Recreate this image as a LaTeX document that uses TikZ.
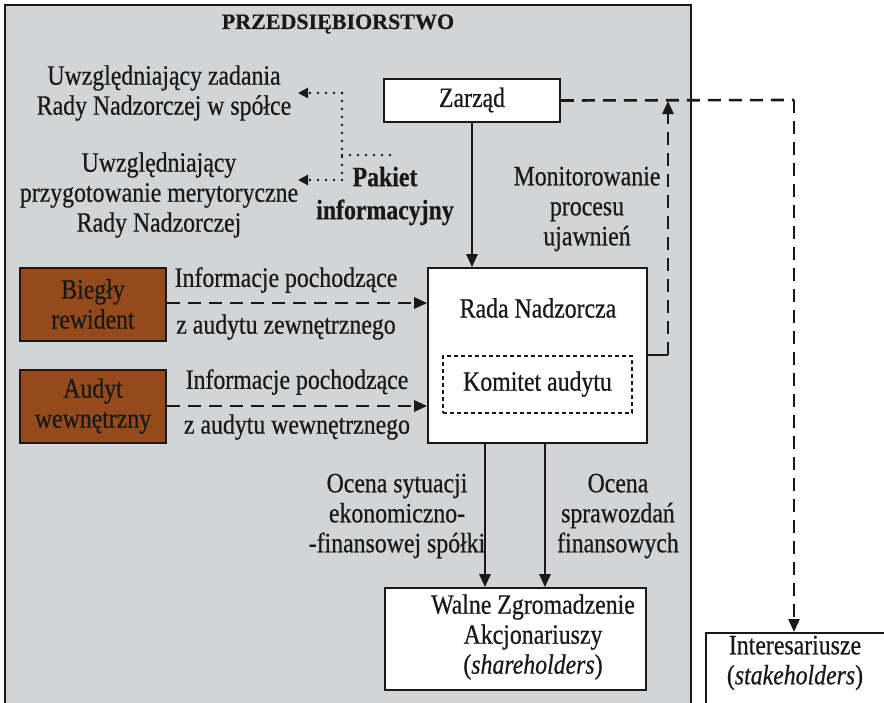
\documentclass[tikz,border=0pt]{standalone}
\usepackage{fontspec}
\setmainfont[FakeStretch=0.85,FakeBold=0.6]{Liberation Serif}
\newfontfamily\titlefont[FakeBold=0.6]{Liberation Serif}
\usetikzlibrary{arrows.meta}
\definecolor{bggrey}{RGB}{211,212,214}
\definecolor{brownbox}{RGB}{148,74,28}
\definecolor{ink}{RGB}{25,25,25}
\tikzset{
  txt/.style={font=\fontsize{28}{30}\selectfont, align=center, inner sep=0pt, text=ink},
  boxw/.style={draw=ink, line width=1.6pt, fill=white, inner sep=0pt},
  boxb/.style={draw=ink, line width=1.6pt, fill=brownbox, inner sep=0pt},
  solidarrow/.style={draw=ink, line width=2.6pt, -{Triangle[length=13pt,width=11pt]}},
  dasharrow/.style={draw=ink, line width=2.6pt, dash pattern=on 13pt off 8pt, -{Triangle[length=13pt,width=11pt]}},
  dashline/.style={draw=ink, line width=2.6pt, dash pattern=on 13pt off 8pt},
  dotline/.style={draw=ink, line width=2.8pt, line cap=round, dash pattern=on 0pt off 8pt},
  dotarrow/.style={draw=ink, line width=2.8pt, line cap=round, dash pattern=on 0pt off 8pt, -{Triangle[length=10pt,width=10pt,line cap=butt]}},
}
\begin{document}
\begin{tikzpicture}[x=1pt,y=-1pt]
\useasboundingbox (0,0) rectangle (884,702);
\clip (0,0) rectangle (884,702);
% enterprise background
\draw[draw=ink, line width=1.6pt, fill=bggrey] (5,5) rectangle (691,720);
\node[txt, font=\titlefont\fontsize{22}{26}\selectfont\bfseries] (title) at (338,24) {PRZEDSIĘBIORSTWO};

% boxes
\node[boxw, minimum width=176pt, minimum height=43pt] (zarzad) at (472,100.5) {};
\node[txt] (zarzadt) at (472,100) {Zarząd};
\node[boxw, minimum width=219pt, minimum height=175pt] (rada) at (537.5,355.5) {};
\node[txt] (radat) at (538,308) {Rada Nadzorcza};
\node[draw=ink, line width=1.2pt, dash pattern=on 4pt off 3pt, minimum width=189pt, minimum height=57pt, inner sep=0pt] (komitet) at (537.5,384.5) {};
\node[txt] (komitett) at (537.5,384) {Komitet audytu};
\node[boxb, minimum width=146pt, minimum height=73pt] (biegly) at (93,304.5) {};
\node[txt] (bieglyt) at (93,304) {Biegły\\rewident};
\node[boxb, minimum width=146pt, minimum height=73pt] (audyt) at (93,406.5) {};
\node[txt] (audytt) at (93,406) {Audyt\\wewnętrzny};
\node[boxw, minimum width=261pt, minimum height=102pt] (walne) at (515.5,639) {};
\node[txt] (walnet) at (533,637) {Walne Zgromadzenie\\Akcjonariuszy\\(\textit{shareholders})};
\node[boxw, minimum width=200pt, minimum height=90pt, anchor=north west] (inter) at (705,632) {};
\node[txt] (intert) at (795,663) {Interesariusze\\(\textit{stakeholders})};

% left texts
\node[txt] (zad) at (164,93) {Uwzględniający zadania\\Rady Nadzorczej w spółce};
\node[txt] (przyg) at (159,195) {Uwzględniający\\przygotowanie merytoryczne\\Rady Nadzorczej};
\node[txt, font=\fontsize{28}{33}\selectfont\bfseries] (pakiet) at (385,196) {Pakiet\\informacyjny};

% dotted connectors
\coordinate (d1) at (342,93);
\coordinate (d2) at (342,180);
\coordinate (d3) at (396,155);
\coordinate (d0) at (342,155);
\coordinate (a1) at (298,93);
\coordinate (a2) at (298,180);
\draw[dotline] (d1) -- (d2);
\draw[dotline] (d0) -- (d3);
\draw[dotarrow] (d1) -- (a1);
\draw[dotarrow] (d2) -- (a2);

% Zarzad -> Rada
\draw[solidarrow] (zarzad.south) -- (zarzad.south |- rada.north);

% audit arrows
\draw[dasharrow] (biegly.east |- 0,303) -- (rada.west |- 0,303);
\draw[dasharrow] (audyt.east |- 0,406) -- (rada.west |- 0,406);
\node[txt] (l1a) at (286,280) {Informacje pochodzące};
\node[txt] (l1b) at (286,327) {z audytu zewnętrznego};
\node[txt] (l2a) at (297,382) {Informacje pochodzące};
\node[txt] (l2b) at (297,427) {z audytu wewnętrznego};

% monitoring
\coordinate (m1) at (668,355);
\coordinate (m2) at (668,101);
\draw[draw=ink, line width=2.6pt] (rada.east |- m1) -- (m1);
\draw[dasharrow] (m1) -- (m2);
\node[txt] (mon) at (587,209) {Monitorowanie\\procesu\\ujawnień};

% Zarzad -> Interesariusze
\coordinate (z1) at (794,100);
\draw[dashline] (zarzad.east) -- (z1);
\draw[dasharrow] (z1) -- (z1 |- inter.north);

% Rada -> Walne
\coordinate (r1) at (485,443);
\coordinate (r2) at (545,443);
\draw[solidarrow] (r1 |- rada.south) -- (r1 |- walne.north);
\draw[solidarrow] (r2 |- rada.south) -- (r2 |- walne.north);
\node[txt] (oc1) at (397,516) {Ocena sytuacji\\ekonomiczno-\\-finansowej spółki};
\node[txt] (oc2) at (618,516) {Ocena\\sprawozdań\\finansowych};
\end{tikzpicture}
\end{document}
